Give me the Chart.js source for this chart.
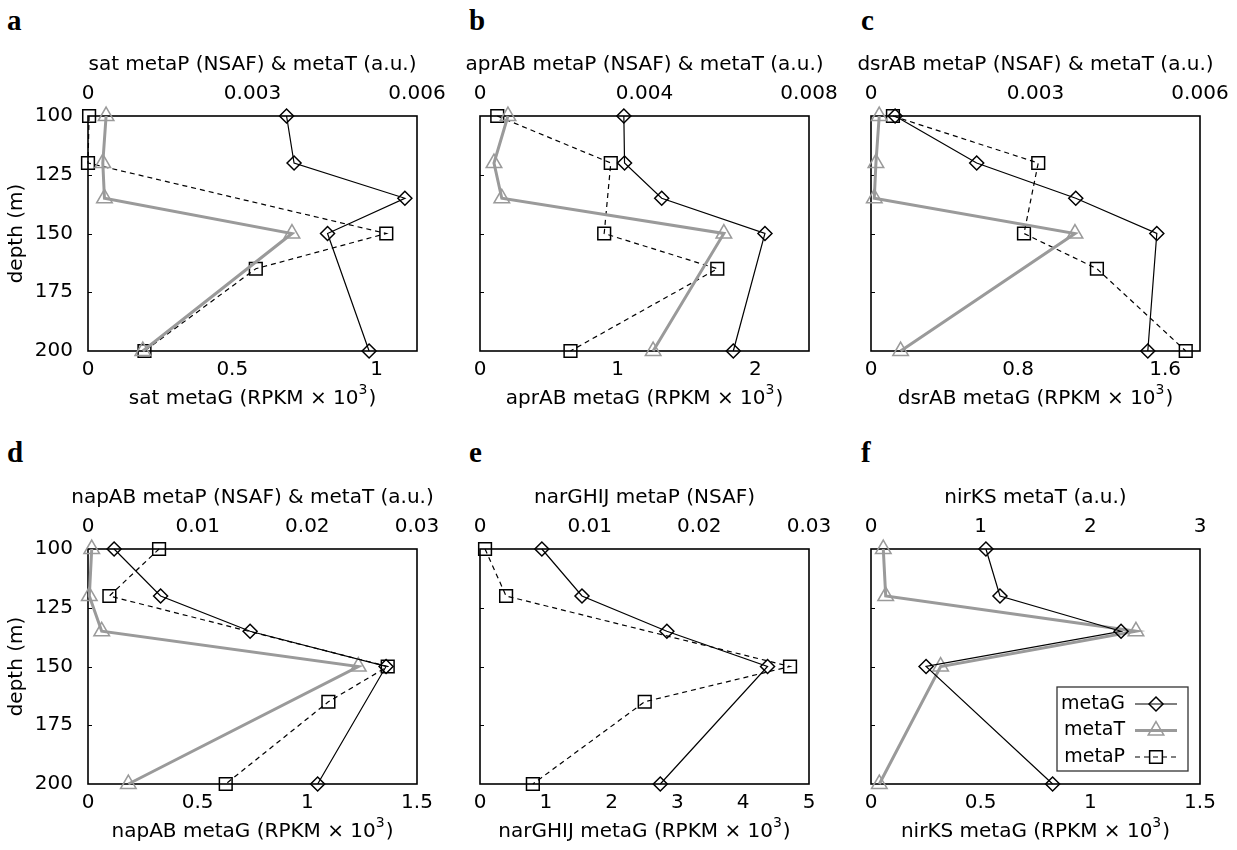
<!DOCTYPE html>
<html lang="en">
<head>
<meta charset="UTF-8">
<title>Depth profiles of metaG, metaT and metaP</title>
<script src="https://cdn.jsdelivr.net/npm/chart.js"></script>
<style>
    body { margin: 0; background: #fff; width: 1237px; height: 850px; position: relative; overflow: hidden; }
    canvas { position: absolute; }
    .letter { position: absolute; font: bold 29px 'Liberation Serif', 'DejaVu Serif', serif; color: #000; line-height: 1; }
</style>
</head>
<body>
<div class="letter" style="left:7px; top:6px">a</div>
<div class="letter" style="left:469px; top:6px">b</div>
<div class="letter" style="left:861px; top:6px">c</div>
<div class="letter" style="left:7px; top:438px">d</div>
<div class="letter" style="left:469px; top:438px">e</div>
<div class="letter" style="left:861px; top:438px">f</div>

<canvas id="pa"></canvas>
<canvas id="pb"></canvas>
<canvas id="pc"></canvas>
<canvas id="pd"></canvas>
<canvas id="pe"></canvas>
<canvas id="pf"></canvas>

<script>
// depths (m) sampled by each data type
const depthsGT = [100, 120, 135, 150, 200];
const depthsP = [100, 120, 150, 165, 200];
const depthTicks = [100, 125, 150, 175, 200];

// a: sat
const satG = [0.688, 0.714, 1.098, 0.830, 0.974];
const satT = [0.00033, 0.00027, 0.00030, 0.00372, 0.00100];
const satP = [0.00002, 0.0, 0.00544, 0.00306, 0.00103];
const satGTicks = [0, 0.5, 1];
const satTopTicks = [0, 0.003, 0.006];

// b: aprAB
const aprG = [1.045, 1.05, 1.32, 2.07, 1.84];
const aprT = [0.00068, 0.00034, 0.00053, 0.00593, 0.00421];
const aprP = [0.00042, 0.00318, 0.00302, 0.00577, 0.0022];
const aprGTicks = [0, 1, 2];
const aprTopTicks = [0, 0.004, 0.008];

// c: dsrAB
const dsrG = [0.131, 0.575, 1.114, 1.555, 1.506];
const dsrT = [0.00015, 0.00009, 0.00006, 0.00372, 0.00054];
const dsrP = [0.0004, 0.00305, 0.00279, 0.00412, 0.00574];
const dsrGTicks = [0, 0.8, 1.6];
const dsrTopTicks = [0, 0.003, 0.006];

// d: napAB
const napG = [0.119, 0.331, 0.739, 1.359, 1.047];
const napT = [0.00034, 0.00012, 0.00125, 0.02465, 0.00368];
const napP = [0.00648, 0.00195, 0.02733, 0.02192, 0.01256];
const napGTicks = [0, 0.5, 1, 1.5];
const napTopTicks = [0, 0.01, 0.02, 0.03];

// e: narGHIJ (no metaT)
const narG = [0.94, 1.55, 2.84, 4.37, 2.74];
const narP = [0.00046, 0.00238, 0.02827, 0.01502, 0.00482];
const narGTicks = [0, 1, 2, 3, 4, 5];
const narTopTicks = [0, 0.01, 0.02, 0.03];

// f: nirKS (no metaP)
const nirG = [0.524, 0.588, 1.14, 0.251, 0.828];
const nirT = [0.112, 0.134, 2.416, 0.635, 0.076];
const nirGTicks = [0, 0.5, 1, 1.5];
const nirTopTicks = [0, 1, 2, 3];

const FONT = { family: "'DejaVu Sans', sans-serif", size: 20 };
const FONT_CSS = "20px 'DejaVu Sans', sans-serif";
const GREY = '#9a9a9a';

const styles = {
    metaG: { borderColor: '#000', borderWidth: 1.2, pointStyle: 'rectRot', pointRadius: 7, pointBorderWidth: 1.5, borderDash: [] },
    metaT: { borderColor: GREY, borderWidth: 3, pointStyle: 'triangle', pointRadius: 9, pointBorderWidth: 1.5, borderDash: [] },
    metaP: { borderColor: '#000', borderWidth: 1.2, pointStyle: 'rect', pointRadius: 9, pointBorderWidth: 1.5, borderDash: [5, 4] }
};

function fmt(v) {
    return String(+v.toFixed(6));
}

function pts(vals, depths) {
    return vals.map((v, i) => ({ x: v, y: depths[i] }));
}

function series(name, vals, depths, axis) {
    const s = styles[name];
    return {
        label: name,
        data: pts(vals, depths),
        xAxisID: axis,
        yAxisID: 'y',
        showLine: true,
        borderColor: s.borderColor,
        borderWidth: s.borderWidth,
        borderDash: s.borderDash,
        pointStyle: s.pointStyle,
        pointRadius: s.pointRadius,
        pointHoverRadius: s.pointRadius,
        pointBorderColor: s.borderColor,
        pointBorderWidth: s.pointBorderWidth,
        pointBackgroundColor: 'rgba(0,0,0,0)',
        clip: false
    };
}

// frame round the plot area plus small inward ticks on the depth axis
const framePlugin = {
    id: 'frame',
    beforeDatasetsDraw(chart) {
        const a = chart.chartArea, ctx = chart.ctx, y = chart.scales.y;
        ctx.save();
        ctx.strokeStyle = '#000';
        ctx.lineWidth = 1.6;
        ctx.strokeRect(a.left, a.top, a.right - a.left, a.bottom - a.top);
        ctx.lineWidth = 1;
        depthTicks.slice(1, -1).forEach(d => {
            const py = Math.round(y.getPixelForValue(d)) + 0.5;
            ctx.beginPath();
            ctx.moveTo(a.left, py);
            ctx.lineTo(a.left + 4, py);
            ctx.stroke();
        });
        ctx.restore();
    }
};

// axis titles drawn by hand so they may run wider than the plot box
// and so the exponent of "10^3" can be raised
const titlePlugin = {
    id: 'axisTitles',
    afterDraw(chart) {
        const o = chart.options.plugins.axisTitles;
        const a = chart.chartArea, ctx = chart.ctx;
        const cx = (a.left + a.right) / 2;
        ctx.save();
        ctx.fillStyle = '#000';
        ctx.font = FONT_CSS;
        ctx.textBaseline = 'middle';
        ctx.textAlign = 'center';
        ctx.fillText(o.top, cx, a.top - 51);

        // bottom: "<gene> metaG (RPKM × 10" + superscript "3" + ")"
        const head = o.bottom + ' metaG (RPKM × 10';
        const sup = '3', tail = ')';
        const supFont = "14px 'DejaVu Sans', sans-serif";
        const wHead = ctx.measureText(head).width;
        const wTail = ctx.measureText(tail).width;
        ctx.font = supFont;
        const wSup = ctx.measureText(sup).width;
        let x = cx - (wHead + wSup + 1 + wTail) / 2;
        const yy = a.bottom + 48;
        ctx.textAlign = 'left';
        ctx.font = FONT_CSS;
        ctx.fillText(head, x, yy);
        x += wHead;
        ctx.font = supFont;
        ctx.fillText(sup, x, yy - 9);
        x += wSup + 1;
        ctx.font = FONT_CSS;
        ctx.fillText(tail, x, yy);
        ctx.restore();
    }
};

function drawMarker(ctx, st, x, y) {
    Chart.helpers.drawPoint(ctx, { pointStyle: st.pointStyle, radius: st.pointRadius, borderWidth: st.pointBorderWidth }, x, y);
}

const legendPlugin = {
    id: 'boxLegend',
    afterDatasetsDraw(chart) {
        if (!chart.options.plugins.boxLegend.show) return;
        const a = chart.chartArea, ctx = chart.ctx;
        const L = a.left + 186, R = a.right - 12, T = a.top + 138, B = a.bottom - 13;
        ctx.save();
        ctx.fillStyle = '#fff';
        ctx.fillRect(L, T, R - L, B - T);
        ctx.strokeStyle = '#333';
        ctx.lineWidth = 1.3;
        ctx.strokeRect(L, T, R - L, B - T);
        ctx.font = "19px 'DejaVu Sans', sans-serif";
        ctx.textAlign = 'right';
        ctx.textBaseline = 'middle';
        ['metaG', 'metaT', 'metaP'].forEach((name, i) => {
            const st = styles[name];
            const yy = T + 17 + i * 26.5;
            ctx.fillStyle = '#000';
            ctx.fillText(name, L + 68, yy);
            ctx.strokeStyle = st.borderColor;
            ctx.lineWidth = st.borderWidth;
            ctx.setLineDash(st.borderDash);
            ctx.beginPath();
            ctx.moveTo(L + 78, yy);
            ctx.lineTo(L + 120, yy);
            ctx.stroke();
            ctx.setLineDash([]);
            ctx.fillStyle = 'rgba(0,0,0,0)';
            ctx.lineWidth = st.pointBorderWidth;
            drawMarker(ctx, st, L + 99, yy);
        });
        ctx.restore();
    }
};

const PLOT_W = 329, PLOT_H = 235, TOP_H = 116, BOTTOM_H = 62, PAD_R = 40;

function makePanel(cfg) {
    const leftW = cfg.yLabels ? cfg.boxLeft : 30;
    const canvas = document.getElementById(cfg.id);
    canvas.width = leftW + PLOT_W + PAD_R;
    canvas.height = TOP_H + PLOT_H + BOTTOM_H;
    canvas.style.left = (cfg.boxLeft - leftW) + 'px';
    canvas.style.top = (cfg.boxTop - TOP_H) + 'px';

    const noPad = s => { s.paddingLeft = 0; s.paddingRight = 0; s.paddingTop = 0; s.paddingBottom = 0; };

    new Chart(canvas, {
        type: 'scatter',
        data: { datasets: cfg.datasets },
        options: {
            responsive: false,
            animation: false,
            events: [],
            layout: { padding: { left: 0, right: PAD_R, top: 0, bottom: 0 } },
            plugins: {
                legend: { display: false },
                tooltip: { enabled: false },
                boxLegend: { show: !!cfg.legend },
                axisTitles: { top: cfg.topTitle, bottom: cfg.gene }
            },
            scales: {
                x: {
                    type: 'linear', position: 'bottom', min: 0, max: cfg.gMax,
                    afterBuildTicks: s => { s.ticks = cfg.gTicks.map(v => ({ value: v })); },
                    afterFit: s => { s.height = BOTTOM_H; noPad(s); },
                    grid: { display: false, drawTicks: false },
                    border: { display: false },
                    ticks: { padding: 7, font: FONT, color: '#000', maxRotation: 0, autoSkip: false, callback: fmt }
                },
                x2: {
                    type: 'linear', position: 'top', min: 0, max: cfg.topMax,
                    afterBuildTicks: s => { s.ticks = cfg.topTicks.map(v => ({ value: v })); },
                    afterFit: s => { s.height = TOP_H; noPad(s); },
                    grid: { display: false, drawTicks: false },
                    border: { display: false },
                    ticks: { padding: 10, font: FONT, color: '#000', maxRotation: 0, autoSkip: false, callback: fmt }
                },
                y: {
                    type: 'linear', position: 'left', reverse: true, min: 100, max: 200,
                    afterBuildTicks: s => { s.ticks = depthTicks.map(v => ({ value: v })); },
                    afterFit: s => { s.width = leftW; noPad(s); },
                    grid: { display: false, drawTicks: false },
                    border: { display: false },
                    ticks: { display: cfg.yLabels, padding: 15, font: FONT, color: '#000' },
                    title: { display: cfg.yLabels, text: 'depth (m)', font: FONT, color: '#000', padding: { top: 5, bottom: 0 } }
                }
            }
        },
        plugins: [framePlugin, legendPlugin, titlePlugin]
    });
}

makePanel({
    id: 'pa', boxLeft: 88, boxTop: 116, yLabels: true, gene: 'sat',
    gMax: 1.14, gTicks: satGTicks, topMax: 0.006, topTicks: satTopTicks,
    topTitle: 'sat metaP (NSAF) & metaT (a.u.)',
    datasets: [series('metaG', satG, depthsGT, 'x'), series('metaT', satT, depthsGT, 'x2'), series('metaP', satP, depthsP, 'x2')]
});
makePanel({
    id: 'pb', boxLeft: 480, boxTop: 116, yLabels: false, gene: 'aprAB',
    gMax: 2.39, gTicks: aprGTicks, topMax: 0.008, topTicks: aprTopTicks,
    topTitle: 'aprAB metaP (NSAF) & metaT (a.u.)',
    datasets: [series('metaG', aprG, depthsGT, 'x'), series('metaT', aprT, depthsGT, 'x2'), series('metaP', aprP, depthsP, 'x2')]
});
makePanel({
    id: 'pc', boxLeft: 871, boxTop: 116, yLabels: false, gene: 'dsrAB',
    gMax: 1.79, gTicks: dsrGTicks, topMax: 0.006, topTicks: dsrTopTicks,
    topTitle: 'dsrAB metaP (NSAF) & metaT (a.u.)',
    datasets: [series('metaG', dsrG, depthsGT, 'x'), series('metaT', dsrT, depthsGT, 'x2'), series('metaP', dsrP, depthsP, 'x2')]
});
makePanel({
    id: 'pd', boxLeft: 88, boxTop: 549, yLabels: true, gene: 'napAB',
    gMax: 1.5, gTicks: napGTicks, topMax: 0.03, topTicks: napTopTicks,
    topTitle: 'napAB metaP (NSAF) & metaT (a.u.)',
    datasets: [series('metaG', napG, depthsGT, 'x'), series('metaT', napT, depthsGT, 'x2'), series('metaP', napP, depthsP, 'x2')]
});
makePanel({
    id: 'pe', boxLeft: 480, boxTop: 549, yLabels: false, gene: 'narGHIJ',
    gMax: 5, gTicks: narGTicks, topMax: 0.03, topTicks: narTopTicks,
    topTitle: 'narGHIJ metaP (NSAF)',
    datasets: [series('metaG', narG, depthsGT, 'x'), series('metaP', narP, depthsP, 'x2')]
});
makePanel({
    id: 'pf', boxLeft: 871, boxTop: 549, yLabels: false, legend: true, gene: 'nirKS',
    gMax: 1.5, gTicks: nirGTicks, topMax: 3, topTicks: nirTopTicks,
    topTitle: 'nirKS metaT (a.u.)',
    datasets: [series('metaG', nirG, depthsGT, 'x'), series('metaT', nirT, depthsGT, 'x2')]
});
</script>
</body>
</html>
